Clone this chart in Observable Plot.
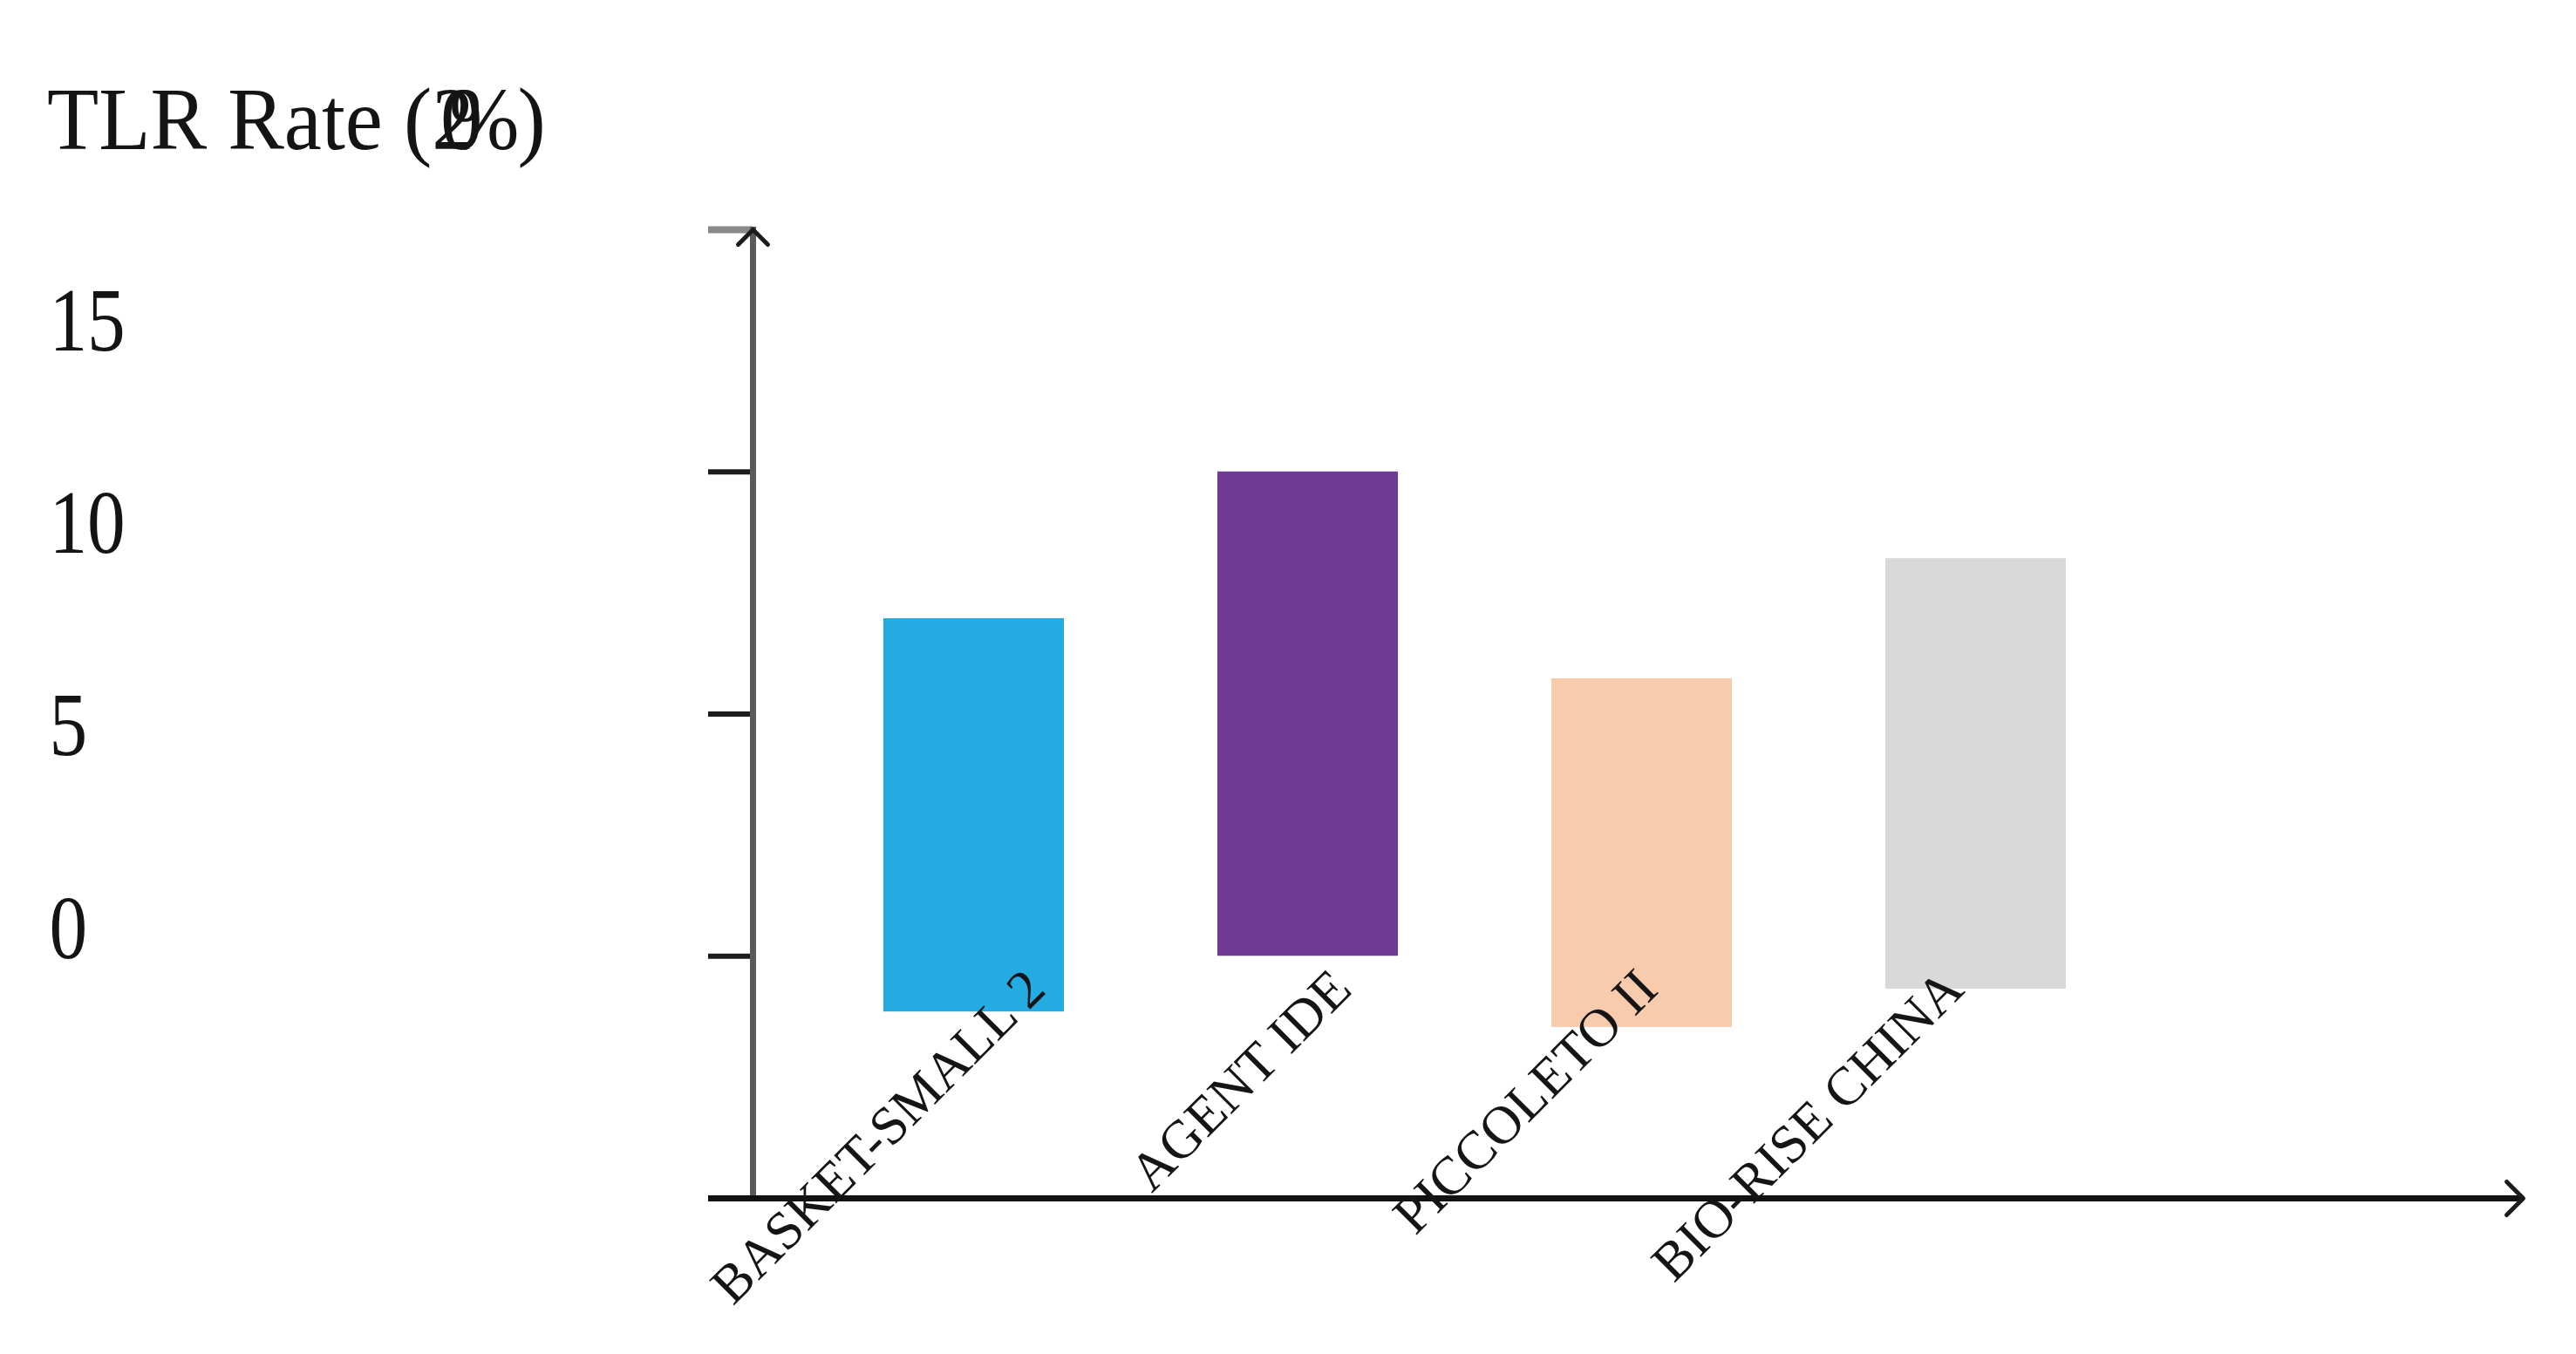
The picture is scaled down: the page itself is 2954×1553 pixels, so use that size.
<!DOCTYPE html>
<html>
<head>
<meta charset="utf-8">
<script src="https://cdn.jsdelivr.net/npm/d3@7"></script>
<script src="https://cdn.jsdelivr.net/npm/@observablehq/plot@0.6"></script>
<style>
  html, body { margin: 0; padding: 0; background: #fff; }
  #chart { position: relative; width: 2954px; height: 1553px; overflow: hidden; }
  #chart > svg, #chart > figure { position: absolute; left: 0; top: 0; margin: 0; }
  #title {
    position: absolute; left: 54px; top: 86px; margin: 0;
    font-family: "Liberation Serif", "DejaVu Serif", serif; font-size: 102px; line-height: 1;
    color: #141414; white-space: nowrap; transform: scaleX(0.95); transform-origin: 0 0;
  }
  #title .ov { letter-spacing: -0.4em; margin-right: 0.38em; }
  #ylabels { transform: scaleX(0.84); transform-origin: 56px 0; }
</style>
</head>
<body>
<div id="chart"></div>
<script>
// ---- data ----
const categories = ["BASKET-SMALL 2", "AGENT IDE", "PICCOLETO II", "BIO-RISE CHINA"];
const lows  = [-1.15, 0, -1.47, -0.68];
const highs = [6.97, 10, 5.73, 8.21];
const palette = ["#24ACE2", "#6F3A93", "#F8CBAD", "#D9D9D9"];
const yTickMarks = [0, 5, 10];
const yTopMark = [15];
const yBase = [-5];
const yTickLabels = [0, 5, 10, 15];
const titleText = "TLR Rate (";

const rows = categories.map((name, i) => ({name, low: lows[i], high: highs[i]}));

const W = 2954, H = 1553;
const serif = "Liberation Serif, DejaVu Serif, serif";

// chevron shape for the axis arrowheads (tip at origin, pointing "up")
const chevron = {
  draw(context, l) {
    context.moveTo(-l, l);
    context.lineTo(0, 0);
    context.lineTo(l, l);
  }
};

const main = Plot.plot({
  width: W, height: H,
  marginLeft: 863, marginRight: 436, marginTop: 263, marginBottom: 179,
  x: {type: "band", domain: categories, paddingInner: 0.46, paddingOuter: 0.388, axis: null},
  y: {domain: [-5, 15], axis: null},
  color: {domain: categories, range: palette},
  style: {background: "transparent"},
  marks: [
    Plot.barY(rows, {x: "name", y1: "low", y2: "high", fill: "name"}),
    Plot.axisY({ticks: yTickMarks, tickSize: 51, tickFormat: () => "", label: null, stroke: "#1c1c1c", strokeWidth: 6}),
    Plot.axisY({ticks: yTopMark, tickSize: 51, tickFormat: () => "", label: null, stroke: "#8a8a8a", strokeWidth: 8}),
    Plot.frame({anchor: "left", stroke: "#5a5a5a", strokeWidth: 7}),
    Plot.ruleY(yBase, {stroke: "#111", strokeWidth: 7, insetLeft: -51, insetRight: -375}),
    Plot.vector(yTopMark, {y: d => d, frameAnchor: "left", shape: chevron, length: 17, anchor: "start", stroke: "#1c1c1c", strokeWidth: 5}),
    Plot.vector(yBase, {y: d => d, frameAnchor: "right", dx: 375, rotate: 90, shape: chevron, length: 19, anchor: "start", stroke: "#1c1c1c", strokeWidth: 5})
  ]
});

// tick labels of the y axis (drawn on their own scale, as in the reference)
const ylab = Plot.plot({
  width: W, height: H,
  marginLeft: 56, marginRight: 10, marginTop: 368, marginBottom: 488,
  y: {domain: [0, 15], axis: null},
  style: {background: "transparent"},
  marks: [
    Plot.text(yTickLabels, {y: d => d, text: d => String(d), frameAnchor: "left", textAnchor: "start",
      fontSize: 104, fontFamily: serif, fill: "#141414"})
  ]
});
ylab.id = "ylabels";

// category labels (rotated), on their own point scale
const xlab = Plot.plot({
  width: W, height: H,
  marginLeft: 1200, marginRight: 699, marginTop: 1137, marginBottom: 100,
  x: {type: "point", domain: categories, padding: 0, axis: null},
  style: {background: "transparent"},
  marks: [
    Plot.text(categories, {x: d => d, text: d => d, frameAnchor: "top", textAnchor: "end", lineAnchor: "bottom",
      rotate: -45, fontSize: 62, fontFamily: serif, fill: "#151515"})
  ]
});

const chart = document.getElementById("chart");
chart.append(main, ylab, xlab);

const title = document.createElement("div");
title.id = "title";
title.append(titleText);
const ov = document.createElement("span");
ov.className = "ov";
ov.textContent = "20%";
title.append(ov, ")");
chart.append(title);
</script>
</body>
</html>
